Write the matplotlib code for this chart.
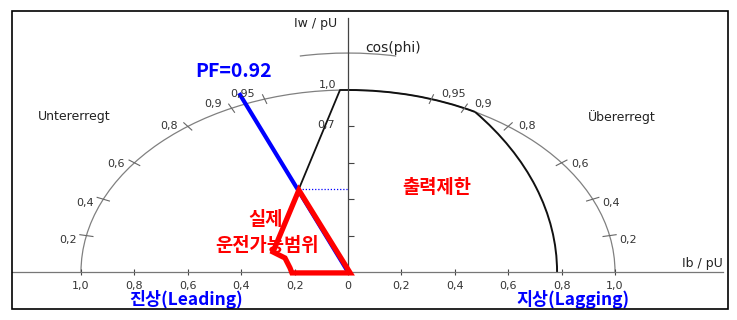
import matplotlib.pyplot as plt
import numpy as np
from matplotlib.patches import Arc, Rectangle, Polygon

# x axis (Ib) and y axis (Iw) ticks
ib_ticks = [-1.0, -0.8, -0.6, -0.4, -0.2, 0.0, 0.2, 0.4, 0.6, 0.8, 1.0]
ib_labels = ["1,0", "0,8", "0,6", "0,4", "0,2", "0", "0,2", "0,4", "0,6", "0,8", "1,0"]
iw_ticks = [0.2, 0.4, 0.6, 0.8]

# cos(phi) marks on the unit circle
pf_marks = [0.2, 0.4, 0.6, 0.8, 0.9, 0.95]
pf_labels = ["0,2", "0,4", "0,6", "0,8", "0,9", "0,95"]

# capability limit (black): stability line, stator circle, rotor circle
stab_ib = [-0.184, -0.03, 0.0]
stab_iw = [0.456, 1.0, 1.0]
stator_end_deg = 61.6
rotor_center = -0.63
rotor_radius = 1.413
rotor_end_deg = 38.5

# PF = 0.92 line
pf_line_ib = [0.0, -0.404]
pf_line_iw = [0.0, 0.973]

# real operating region (red)
region_ib = [-0.184, -0.281, -0.236, -0.217, -0.21, 0.008]
region_iw = [0.45, 0.11, 0.077, 0.022, -0.005, -0.005]

kr = ['Noto Sans CJK KR', 'DejaVu Sans']

fig = plt.figure(figsize=(7.37, 3.2), dpi=100)
ax = fig.add_axes([0, 0, 1, 1])
ax.set_xlim(-348 / 267, 389 / 267)
ax.set_ylim(-48 / 182, 272 / 182)
ax.patch.set_visible(False)

# axes through the origin
for s in ['top', 'right']:
  ax.spines[s].set_visible(False)
ax.spines['left'].set_position(('data', 0))
ax.spines['bottom'].set_position(('data', 0))
ax.spines['bottom'].set_bounds(-1.26, 1.404)
ax.spines['left'].set_bounds(0, 1.396)
ax.spines['bottom'].set_color('#777777')
ax.spines['left'].set_color('#444444')
ax.spines['bottom'].set_linewidth(0.9)
ax.spines['left'].set_linewidth(0.9)

ax.set_xticks(ib_ticks)
ax.set_xticklabels(ib_labels)
ax.set_yticks(iw_ticks)
ax.set_yticklabels([])
ax.tick_params(axis='x', direction='inout', length=5, width=0.8, color='#444444',
               labelsize=8, labelcolor='#333333', pad=4)
ax.tick_params(axis='y', direction='in', length=4.5, width=0.8, color='#444444')

# unit circle and cos(phi) marks
ax.add_patch(Arc((0, 0), 2, 2, theta1=0, theta2=180, color='#808080', lw=0.9))
ax.add_patch(Arc((0, 0.203), 2, 2, theta1=79.6, theta2=100.4, color='#808080', lw=0.9))
dy = {0.2: -3, 0.4: -3, 0.6: -1, 0.8: 0, 0.9: 3, 0.95: 4}
for c, lab in zip(pf_marks, pf_labels):
  s = np.sqrt(1 - c ** 2)
  for side in [-1, 1]:
    ax.plot([side * s * 0.975, side * s * 1.025], [c * 0.975, c * 1.025], color='#666666', lw=0.8)
    ax.annotate(lab, xy=(side * s, c), xytext=(side * 7, dy[c]), textcoords='offset points',
                ha='left' if side > 0 else 'right', va='center', fontsize=8, color='#333333')

# capability limit
ax.plot(stab_ib, stab_iw, color='#111111', lw=1.3)
ax.add_patch(Arc((0, 0), 2, 2, theta1=stator_end_deg, theta2=90, color='#111111', lw=1.4))
ax.add_patch(Arc((rotor_center, 0), 2 * rotor_radius, 2 * rotor_radius, theta1=0,
                 theta2=rotor_end_deg, color='#111111', lw=1.4))

# PF line, dotted guide and operating region
ax.plot(pf_line_ib, pf_line_iw, color='#0000ff', lw=3)
ax.plot([region_ib[0], 0], [stab_iw[0], stab_iw[0]], color='#0000ff', lw=0.9, linestyle=(0, (1, 1.5)))
ax.add_patch(Polygon(list(zip(region_ib, region_iw)), closed=True, fill=False,
                     edgecolor='#ff0000', lw=3.8, joinstyle='miter', zorder=3))

# texts
ax.text(-1.026, 0.852, "Untererregt", ha='center', va='center', fontsize=9, color='#222222')
ax.text(1.026, 0.852, "Übererregt", ha='center', va='center', fontsize=9, color='#222222')
ax.text(-0.041, 1.368, "Iw / pU", ha='right', va='center', fontsize=9, color='#222222')
ax.text(1.404, 0.049, "Ib / pU", ha='right', va='center', fontsize=9, color='#222222')
ax.text(0.064, 1.231, "cos(phi)", ha='left', va='center', fontsize=10, color='#222222')
ax.text(-0.075, 1.027, "1,0", ha='center', va='center', fontsize=8, color='#333333')
ax.text(-0.082, 0.808, "0,7", ha='center', va='center', fontsize=8, color='#333333')

ax.text(-0.427, 1.099, "PF=0.92", ha='center', va='center', fontsize=14, color='#0000ff',
        family=kr, weight='bold')
ax.text(-0.307, 0.291, "실제", ha='center', va='center', fontsize=13.5, color='#ff0000',
        family=kr, weight='bold', zorder=4)
ax.text(-0.303, 0.143, "운전가능범위", ha='center', va='center', fontsize=13.5, color='#ff0000',
        family=kr, weight='bold', zorder=4)
ax.text(0.333, 0.467, "출력제한", ha='center', va='center', fontsize=13.5, color='#ff0000',
        family=kr, weight='bold')
ax.text(-0.607, -0.152, "진상(Leading)", ha='center', va='center', fontsize=12.5, color='#0000ff',
        family=kr, weight='bold')
ax.text(0.843, -0.152, "지상(Lagging)", ha='center', va='center', fontsize=12.5, color='#0000ff',
        family=kr, weight='bold')

# outer frame
fig.patches.append(Rectangle((12 / 737, 11 / 320), 716 / 737, 298 / 320, transform=fig.transFigure,
                             fill=False, edgecolor='black', lw=1.2))

plt.savefig('out.png', dpi=100)
